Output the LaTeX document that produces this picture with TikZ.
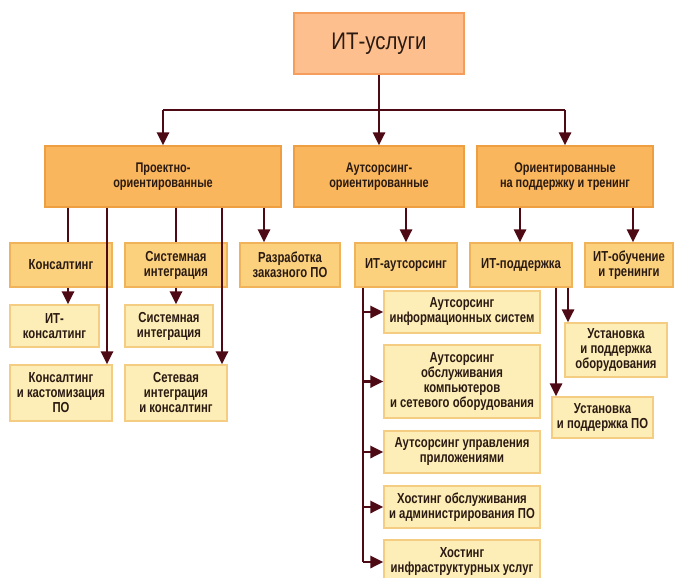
\documentclass[tikz,border=0pt]{standalone}
\usepackage{fontspec}
\setmainfont{Liberation Sans}[FakeStretch=0.85]
\newfontfamily\boxfont{Liberation Sans Bold}[FakeStretch=0.78]
\usetikzlibrary{arrows.meta,calc}
\definecolor{topfill}{HTML}{FDBF8E}
\definecolor{topdraw}{HTML}{F59D5C}
\definecolor{lvtwofill}{HTML}{F9B65C}
\definecolor{lvtwodraw}{HTML}{EE9F42}
\definecolor{lvthreefill}{HTML}{FBD17E}
\definecolor{lvthreedraw}{HTML}{F0B35A}
\definecolor{lvfourfill}{HTML}{FDEDB6}
\definecolor{lvfourdraw}{HTML}{F5CD82}
\definecolor{conncol}{HTML}{4E0A14}
\definecolor{txtcol}{HTML}{2A1A12}
\tikzset{
  x=1pt,y=-1pt,
  basebox/.style={inner sep=0pt, align=center, text=txtcol, line width=1.2pt},
  topbox/.style={basebox, fill=topfill, draw=topdraw, font=\fontsize{24}{28}\selectfont},
  lvtwo/.style={basebox, fill=lvtwofill, draw=lvtwodraw, font=\boxfont\fontsize{14}{15.5}\selectfont},
  lvthree/.style={basebox, fill=lvthreefill, draw=lvthreedraw, font=\boxfont\fontsize{14.5}{15}\selectfont},
  lvfour/.style={basebox, fill=lvfourfill, draw=lvfourdraw, font=\boxfont\fontsize{14.5}{15}\selectfont},
  ln/.style={draw=conncol, line width=2.8pt},
  arr/.style={ln, -{Triangle[length=13pt,width=12pt]}},
}
\begin{document}
\begin{tikzpicture}
\useasboundingbox (0,0) rectangle (678,578);
\begin{scope}
\clip (0,0) rectangle (678,578);
% top
\node[topbox, minimum width=170pt, minimum height=61pt] (top) at (379,43.5) {ИТ-услуги};
% level 2
\node[lvtwo, minimum width=236pt, minimum height=61pt] (p) at (163,176.5) {Проектно-\\ориентированные};
\node[lvtwo, minimum width=170pt, minimum height=61pt] (a) at (379,176.5) {Аутсорсинг-\\ориентированные};
\node[lvtwo, minimum width=176pt, minimum height=61pt] (s) at (565,176.5) {Ориентированные\\на поддержку и тренинг};
% level 3
\node[lvthree, minimum width=102pt, minimum height=44pt] (kons) at (61,265) {Консалтинг};
\node[lvthree, minimum width=102pt, minimum height=44pt] (sint) at (176,265) {Системная\\интеграция};
\node[lvthree, minimum width=100pt, minimum height=44pt] (razr) at (290,265) {Разработка\\заказного ПО};
\node[lvthree, minimum width=102pt, minimum height=44pt] (itaut) at (406,265) {ИТ-аутсорсинг};
\node[lvthree, minimum width=102pt, minimum height=44pt] (itpod) at (521,265) {ИТ-поддержка};
\node[lvthree, minimum width=88pt, minimum height=44pt] (itob) at (629,265) {ИТ-обучение\\и тренинги};
% level 4
\node[lvfour, minimum width=89pt, minimum height=42pt] (itk) at (54.5,326) {ИТ-\\консалтинг};
\node[lvfour, minimum width=88pt, minimum height=42pt] (sik) at (169,326) {Системная\\интеграция};
\node[lvfour, minimum width=102pt, minimum height=56pt] (kkp) at (61,393) {Консалтинг\\и кастомизация\\ПО};
\node[lvfour, minimum width=102pt, minimum height=56pt] (sik2) at (176,393) {Сетевая\\интеграция\\и консалтинг};
\node[lvfour, minimum width=156pt, minimum height=42pt] (ai) at (462,312) {Аутсорсинг\\информационных систем};
\node[lvfour, minimum width=156pt, minimum height=73pt] (ao) at (462,381.5) {Аутсорсинг\\обслуживания\\компьютеров\\и сетевого оборудования};
\node[lvfour, minimum width=156pt, minimum height=42pt] (au) at (462,452) {Аутсорсинг управления\\приложениями};
\node[lvfour, minimum width=156pt, minimum height=42pt] (ho) at (462,507) {Хостинг обслуживания\\и администрирования ПО};
\node[lvfour, minimum width=156pt, minimum height=44pt] (hi) at (462,562) {Хостинг\\инфраструктурных услуг};
\node[lvfour, minimum width=102pt, minimum height=54pt] (uo) at (616,350) {Установка\\и поддержка\\оборудования};
\node[lvfour, minimum width=101pt, minimum height=41pt] (up) at (602.5,417.5) {Установка\\и поддержка ПО};
% helper coordinates
\coordinate (bus) at (0,110);
\coordinate (xa) at (68,0);
\coordinate (xb) at (107,0);
\coordinate (xc) at (176,0);
\coordinate (xd) at (222,0);
\coordinate (xe) at (264,0);
\coordinate (xf) at (363,0);
\coordinate (xg) at (556,0);
\coordinate (xh) at (568,0);
\coordinate (xi) at (633,0);
\coordinate (xj) at (520,0);
% top connectors
\draw[ln] (top.south) -- (top.south |- bus);
\draw[ln] (p.north |- bus) -- (s.north |- bus);
\draw[arr] (p.north |- bus) -- (p.north);
\draw[arr] (top.south |- bus) -- (a.north);
\draw[arr] (s.north |- bus) -- (s.north);
% project-oriented
\draw[ln] (p.south -| xa) -- (kons.north -| xa);
\draw[arr] (p.south -| xb) -- (kkp.north -| xb);
\draw[ln] (p.south -| xc) -- (sint.north -| xc);
\draw[arr] (p.south -| xd) -- (sik2.north -| xd);
\draw[arr] (p.south -| xe) -- (razr.north -| xe);
\draw[arr] (kons.south -| xa) -- (itk.north -| xa);
\draw[arr] (sint.south -| xc) -- (sik.north -| xc);
% outsourcing
\draw[arr] (a.south -| itaut) -- (itaut.north);
\draw[ln] (itaut.south -| xf) -- (hi.west -| xf);
\draw[arr] (ai.west -| xf) -- (ai.west);
\draw[arr] (ao.west -| xf) -- (ao.west);
\draw[arr] (au.west -| xf) -- (au.west);
\draw[arr] (ho.west -| xf) -- (ho.west);
\draw[arr] (hi.west -| xf) -- (hi.west);
% support
\draw[arr] (s.south -| xj) -- (itpod.north -| xj);
\draw[arr] (s.south -| xi) -- (itob.north -| xi);
\draw[arr] (itpod.south -| xg) -- (up.north -| xg);
\draw[arr] (itpod.south -| xh) -- (uo.north -| xh);
\end{scope}
\end{tikzpicture}
\end{document}
